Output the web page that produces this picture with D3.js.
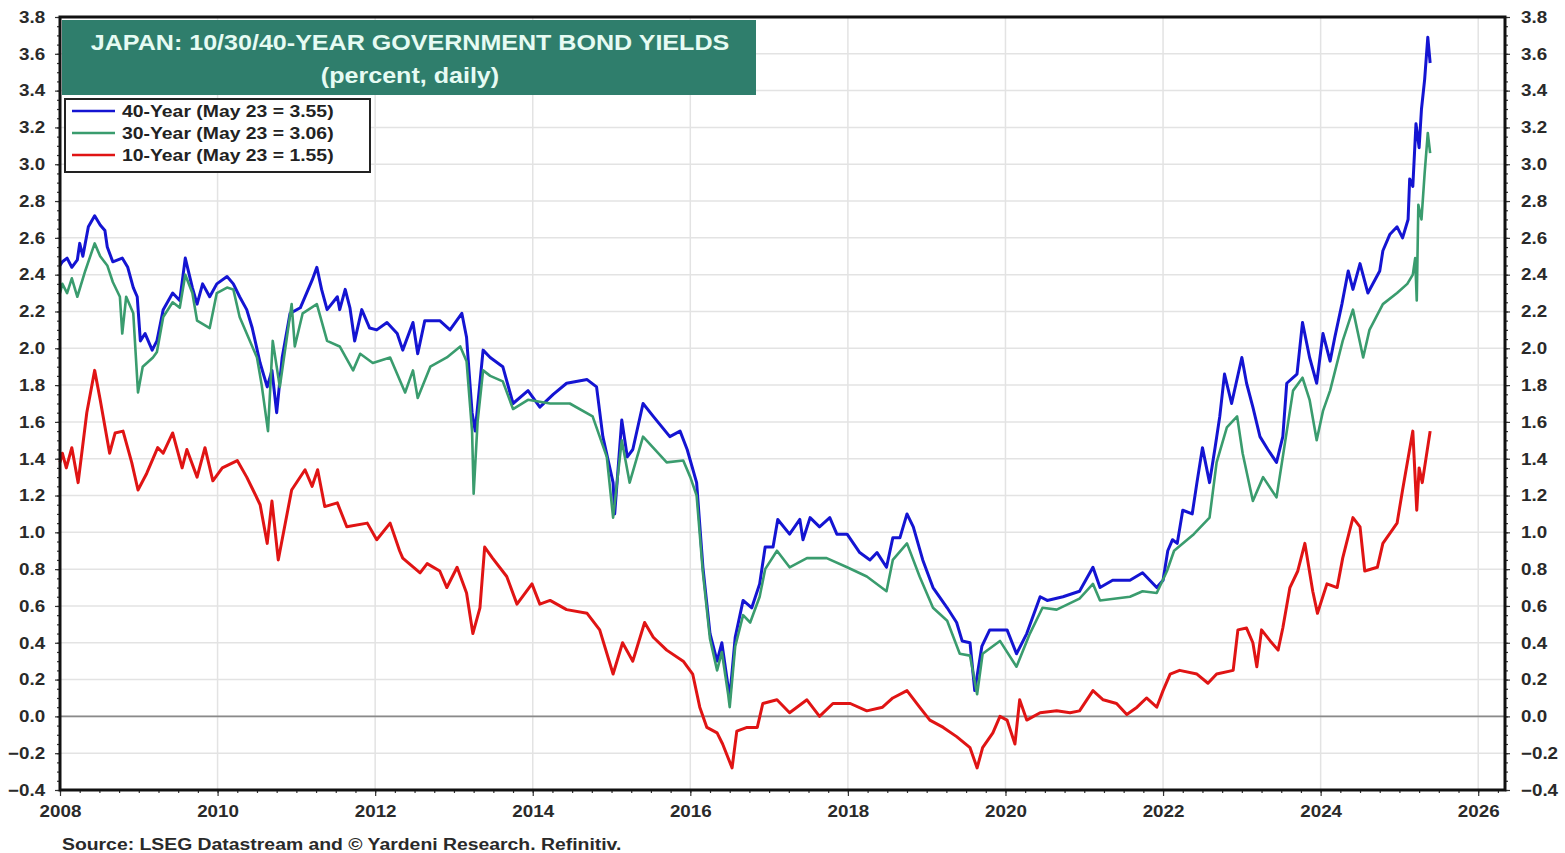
<!DOCTYPE html>
<html>
<head>
<meta charset="utf-8">
<script src="https://cdn.jsdelivr.net/npm/d3@7"></script>
<style>
  html, body { margin: 0; padding: 0; background: #fff; }
  svg { display: block; }
  text { font-family: "Liberation Sans", Arial, sans-serif; font-weight: bold; }
</style>
</head>
<body>
<svg id="chart" width="1565" height="853"></svg>
<script>
// Japan government bond yields, percent (decimal year, value)
const dates40 = [2008.00,2008.03,2008.09,2008.15,2008.22,2008.25,2008.29,2008.36,2008.44,2008.51,2008.57,2008.60,2008.67,2008.79,2008.86,2008.93,2008.98,2009.02,2009.08,2009.17,2009.23,2009.31,2009.43,2009.52,2009.59,2009.68,2009.74,2009.81,2009.90,2009.99,2010.12,2010.20,2010.28,2010.37,2010.44,2010.54,2010.63,2010.69,2010.75,2010.82,2010.92,2011.05,2011.13,2011.20,2011.26,2011.32,2011.39,2011.52,2011.55,2011.62,2011.68,2011.74,2011.83,2011.93,2012.02,2012.15,2012.28,2012.35,2012.48,2012.54,2012.63,2012.82,2012.95,2013.10,2013.16,2013.23,2013.27,2013.37,2013.46,2013.62,2013.75,2013.94,2014.09,2014.26,2014.43,2014.69,2014.81,2014.89,2015.02,2015.04,2015.13,2015.20,2015.27,2015.40,2015.53,2015.74,2015.87,2015.96,2016.08,2016.16,2016.25,2016.34,2016.40,2016.48,2016.50,2016.57,2016.67,2016.78,2016.88,2016.95,2017.05,2017.11,2017.26,2017.39,2017.43,2017.52,2017.64,2017.77,2017.86,2017.99,2018.15,2018.28,2018.37,2018.49,2018.57,2018.66,2018.75,2018.83,2018.95,2019.08,2019.26,2019.38,2019.45,2019.55,2019.61,2019.70,2019.80,2020.02,2020.14,2020.27,2020.44,2020.53,2020.73,2020.94,2021.11,2021.20,2021.36,2021.58,2021.74,2021.92,2022.00,2022.06,2022.12,2022.18,2022.25,2022.37,2022.43,2022.50,2022.59,2022.66,2022.72,2022.78,2022.87,2023.00,2023.06,2023.14,2023.23,2023.33,2023.44,2023.52,2023.57,2023.70,2023.77,2023.86,2023.95,2024.03,2024.12,2024.18,2024.27,2024.35,2024.41,2024.50,2024.60,2024.75,2024.79,2024.88,2024.97,2025.04,2025.11,2025.13,2025.17,2025.21,2025.25,2025.28,2025.32,2025.36,2025.39];
const yields40 = [2.45,2.47,2.49,2.44,2.48,2.57,2.50,2.66,2.72,2.67,2.64,2.55,2.47,2.49,2.44,2.33,2.28,2.04,2.08,1.99,2.04,2.21,2.30,2.26,2.49,2.33,2.24,2.35,2.28,2.35,2.39,2.35,2.28,2.21,2.11,1.92,1.79,1.88,1.65,1.95,2.19,2.22,2.30,2.37,2.44,2.32,2.21,2.28,2.21,2.32,2.22,2.04,2.21,2.11,2.10,2.14,2.08,1.99,2.14,1.97,2.15,2.15,2.10,2.19,2.06,1.65,1.55,1.99,1.95,1.90,1.70,1.77,1.68,1.75,1.81,1.83,1.79,1.52,1.27,1.10,1.61,1.41,1.45,1.70,1.63,1.52,1.55,1.45,1.27,0.81,0.45,0.30,0.40,0.16,0.10,0.43,0.63,0.59,0.72,0.92,0.92,1.07,0.99,1.07,0.96,1.08,1.03,1.08,0.99,0.99,0.89,0.85,0.89,0.81,0.97,0.97,1.10,1.03,0.85,0.70,0.59,0.51,0.41,0.40,0.14,0.38,0.47,0.47,0.34,0.45,0.65,0.63,0.65,0.68,0.81,0.70,0.74,0.74,0.78,0.70,0.74,0.90,0.96,0.94,1.12,1.10,1.27,1.46,1.27,1.46,1.63,1.86,1.70,1.95,1.81,1.68,1.52,1.45,1.38,1.52,1.81,1.86,2.14,1.95,1.81,2.08,1.93,2.06,2.24,2.42,2.32,2.46,2.30,2.42,2.53,2.62,2.66,2.60,2.70,2.92,2.88,3.22,3.09,3.30,3.46,3.69,3.55];

const dates30 = [2008.00,2008.03,2008.09,2008.15,2008.22,2008.32,2008.44,2008.51,2008.60,2008.67,2008.76,2008.79,2008.84,2008.93,2008.99,2009.05,2009.18,2009.23,2009.31,2009.43,2009.52,2009.59,2009.68,2009.74,2009.90,2009.99,2010.12,2010.20,2010.28,2010.50,2010.56,2010.64,2010.70,2010.79,2010.94,2010.98,2011.08,2011.26,2011.39,2011.55,2011.72,2011.81,2011.97,2012.19,2012.38,2012.48,2012.54,2012.70,2012.91,2013.08,2013.16,2013.23,2013.25,2013.30,2013.37,2013.46,2013.62,2013.75,2013.94,2014.22,2014.47,2014.76,2014.94,2015.02,2015.13,2015.23,2015.40,2015.70,2015.91,2016.00,2016.08,2016.16,2016.25,2016.34,2016.40,2016.48,2016.50,2016.57,2016.67,2016.76,2016.88,2016.95,2017.10,2017.26,2017.48,2017.73,2017.99,2018.24,2018.49,2018.57,2018.75,2018.91,2019.08,2019.26,2019.42,2019.55,2019.64,2019.71,2019.93,2020.14,2020.31,2020.47,2020.65,2020.94,2021.11,2021.20,2021.58,2021.74,2021.92,2022.05,2022.14,2022.39,2022.59,2022.68,2022.81,2022.94,2023.01,2023.14,2023.27,2023.44,2023.52,2023.65,2023.77,2023.86,2023.95,2024.03,2024.12,2024.28,2024.41,2024.54,2024.62,2024.79,2024.97,2025.10,2025.17,2025.20,2025.22,2025.24,2025.28,2025.32,2025.36,2025.39];
const yields30 = [2.30,2.35,2.30,2.38,2.28,2.42,2.57,2.50,2.45,2.36,2.28,2.08,2.28,2.19,1.76,1.90,1.95,1.98,2.17,2.25,2.22,2.40,2.30,2.15,2.11,2.30,2.33,2.32,2.17,1.95,1.80,1.55,2.04,1.79,2.24,2.01,2.19,2.24,2.04,2.01,1.88,1.97,1.92,1.95,1.76,1.88,1.73,1.90,1.95,2.01,1.93,1.55,1.21,1.60,1.88,1.85,1.82,1.67,1.72,1.70,1.70,1.63,1.41,1.08,1.50,1.27,1.52,1.38,1.39,1.30,1.20,0.78,0.42,0.25,0.35,0.12,0.05,0.38,0.55,0.51,0.65,0.80,0.90,0.81,0.86,0.86,0.81,0.76,0.68,0.85,0.94,0.76,0.59,0.52,0.34,0.33,0.12,0.34,0.41,0.27,0.45,0.59,0.58,0.64,0.72,0.63,0.65,0.68,0.67,0.79,0.90,0.99,1.08,1.38,1.57,1.63,1.43,1.17,1.30,1.19,1.41,1.77,1.84,1.72,1.50,1.66,1.77,2.04,2.21,1.95,2.10,2.24,2.30,2.35,2.40,2.49,2.26,2.78,2.70,2.95,3.17,3.06];

const dates10 = [2008.00,2008.03,2008.08,2008.15,2008.23,2008.34,2008.44,2008.51,2008.63,2008.70,2008.80,2008.91,2008.99,2009.10,2009.24,2009.31,2009.43,2009.55,2009.61,2009.74,2009.84,2009.94,2010.06,2010.25,2010.37,2010.45,2010.54,2010.63,2010.69,2010.77,2010.94,2011.11,2011.20,2011.27,2011.36,2011.52,2011.64,2011.90,2012.02,2012.19,2012.31,2012.35,2012.57,2012.66,2012.82,2012.91,2013.04,2013.16,2013.24,2013.33,2013.39,2013.49,2013.67,2013.80,2013.99,2014.09,2014.22,2014.43,2014.69,2014.85,2015.02,2015.14,2015.27,2015.42,2015.53,2015.70,2015.91,2016.03,2016.12,2016.21,2016.34,2016.41,2016.53,2016.59,2016.72,2016.85,2016.92,2017.10,2017.26,2017.48,2017.64,2017.81,2018.03,2018.24,2018.44,2018.57,2018.75,2018.91,2019.04,2019.21,2019.38,2019.55,2019.64,2019.71,2019.84,2019.93,2020.02,2020.12,2020.18,2020.27,2020.44,2020.65,2020.82,2020.94,2021.11,2021.24,2021.41,2021.54,2021.67,2021.79,2021.92,2022.00,2022.09,2022.21,2022.43,2022.57,2022.68,2022.89,2022.95,2023.06,2023.14,2023.19,2023.25,2023.36,2023.46,2023.52,2023.61,2023.71,2023.80,2023.90,2023.96,2024.08,2024.21,2024.28,2024.41,2024.50,2024.56,2024.72,2024.79,2024.97,2025.04,2025.17,2025.22,2025.25,2025.29,2025.39];
const yields10 = [1.38,1.43,1.35,1.46,1.27,1.65,1.88,1.72,1.43,1.54,1.55,1.38,1.23,1.32,1.46,1.43,1.54,1.35,1.45,1.30,1.46,1.28,1.35,1.39,1.30,1.23,1.15,0.94,1.17,0.85,1.23,1.34,1.25,1.34,1.14,1.16,1.03,1.05,0.96,1.05,0.90,0.86,0.78,0.83,0.79,0.70,0.81,0.67,0.45,0.59,0.92,0.86,0.76,0.61,0.72,0.61,0.63,0.58,0.56,0.47,0.23,0.40,0.30,0.51,0.43,0.36,0.30,0.23,0.05,-0.06,-0.09,-0.15,-0.28,-0.08,-0.06,-0.06,0.07,0.09,0.02,0.09,0.00,0.07,0.07,0.03,0.05,0.10,0.14,0.05,-0.02,-0.06,-0.11,-0.17,-0.28,-0.17,-0.09,0.00,-0.02,-0.15,0.09,-0.02,0.02,0.03,0.02,0.03,0.14,0.09,0.07,0.01,0.05,0.10,0.05,0.14,0.23,0.25,0.23,0.18,0.23,0.25,0.47,0.48,0.40,0.27,0.47,0.41,0.36,0.48,0.70,0.79,0.94,0.68,0.56,0.72,0.70,0.86,1.08,1.03,0.79,0.81,0.94,1.05,1.23,1.55,1.12,1.35,1.27,1.55];

const seriesLabels = ["40-Year (May 23 = 3.55)", "30-Year (May 23 = 3.06)", "10-Year (May 23 = 1.55)"];
const yTicks = [-0.4,-0.2,0.0,0.2,0.4,0.6,0.8,1.0,1.2,1.4,1.6,1.8,2.0,2.2,2.4,2.6,2.8,3.0,3.2,3.4,3.6,3.8];
const xTicks = [2008,2010,2012,2014,2016,2018,2020,2022,2024,2026];
const titleLines = ["JAPAN: 10/30/40-YEAR GOVERNMENT BOND YIELDS", "(percent, daily)"];
const sourceText = "Source: LSEG Datastream and \u00A9 Yardeni Research. Refinitiv.";

const colors = { y40: "#1414d2", y30: "#3a9c6e", y10: "#e01414" };

const svg = d3.select("#chart");
const pLeft = 60, pRight = 1505, pTop = 17, pBottom = 790;
const stretch = 1.14; // wide bold lettering

const x = d3.scaleLinear().domain([2008, 2026.34]).range([pLeft, pRight]);
const y = d3.scaleLinear().domain([-0.4, 3.8]).range([pBottom, pTop]);

// places a horizontally widened text at (tx, ty)
function wideText(parent, tx, ty, str, size, anchor, fill) {
  return parent.append("text")
    .attr("transform", `translate(${tx},${ty}) scale(${stretch},1)`)
    .attr("text-anchor", anchor || "start")
    .attr("fill", fill)
    .style("font-size", size + "px")
    .text(str);
}

// gridlines
const grid = svg.append("g");
grid.selectAll("line.h").data(yTicks).join("line")
  .attr("class", "h")
  .attr("x1", pLeft).attr("x2", pRight)
  .attr("y1", d => y(d)).attr("y2", d => y(d))
  .attr("stroke", "#e3e3e3").attr("stroke-width", 1.5);
grid.selectAll("line.v").data(xTicks).join("line")
  .attr("class", "v")
  .attr("x1", d => x(d)).attr("x2", d => x(d))
  .attr("y1", pTop).attr("y2", pBottom)
  .attr("stroke", "#e3e3e3").attr("stroke-width", 1.5);

// zero line
svg.append("line")
  .attr("x1", pLeft).attr("x2", pRight)
  .attr("y1", y(0)).attr("y2", y(0))
  .attr("stroke", "#8a8a8a").attr("stroke-width", 1.6);

// series
const line = d3.line().x(d => x(d[0])).y(d => y(d[1]));
const pairs = (ds, vs) => ds.map((d, i) => [d, vs[i]]);
const plot = svg.append("g");
plot.append("path").datum(pairs(dates40, yields40))
  .attr("d", line).attr("fill", "none").attr("stroke", colors.y40)
  .attr("stroke-width", 3).attr("stroke-linejoin", "round");
plot.append("path").datum(pairs(dates30, yields30))
  .attr("d", line).attr("fill", "none").attr("stroke", colors.y30)
  .attr("stroke-width", 2.6).attr("stroke-linejoin", "round");
plot.append("path").datum(pairs(dates10, yields10))
  .attr("d", line).attr("fill", "none").attr("stroke", colors.y10)
  .attr("stroke-width", 3).attr("stroke-linejoin", "round");

// axes
const fmt = d3.format(".1f");
const yMinor = d3.range(-0.4, 3.8001, 0.05);
const xMinor = d3.range(2008, 2026.34, 0.25);

const leftAxis = svg.append("g").attr("transform", `translate(${pLeft},0)`)
  .call(d3.axisLeft(y).tickValues(yTicks).tickFormat(fmt).tickSize(5).tickPadding(8));
const rightAxis = svg.append("g").attr("transform", `translate(${pRight},0)`)
  .call(d3.axisRight(y).tickValues(yTicks).tickFormat(fmt).tickSize(5).tickPadding(9));
const bottomAxis = svg.append("g").attr("transform", `translate(0,${pBottom})`)
  .call(d3.axisBottom(x).tickValues(xTicks).tickFormat(d3.format("d")).tickSize(6).tickPadding(9));

svg.append("g").attr("transform", `translate(${pLeft},0)`)
  .call(d3.axisLeft(y).tickValues(yMinor).tickFormat("").tickSize(3))
  .call(g => g.select(".domain").remove());
svg.append("g").attr("transform", `translate(${pRight},0)`)
  .call(d3.axisRight(y).tickValues(yMinor).tickFormat("").tickSize(3))
  .call(g => g.select(".domain").remove());
svg.append("g").attr("transform", `translate(0,${pBottom})`)
  .call(d3.axisBottom(x).tickValues(xMinor).tickFormat("").tickSize(3))
  .call(g => g.select(".domain").remove());

[leftAxis, rightAxis, bottomAxis].forEach(g => {
  g.select(".domain").remove();
  g.selectAll(".tick text")
    .attr("fill", "#2a2a2a")
    .attr("transform", `scale(${stretch},1)`)
    .style("font-size", "16.5px").style("font-weight", "bold");
});
svg.selectAll(".tick line").attr("stroke", "#333").attr("stroke-width", 1.2);

// frame
svg.append("rect")
  .attr("x", pLeft).attr("y", pTop).attr("width", pRight - pLeft).attr("height", pBottom - pTop)
  .attr("fill", "none").attr("stroke", "#111").attr("stroke-width", 3);

// title box
svg.append("rect").attr("x", 62).attr("y", 20).attr("width", 694).attr("height", 75)
  .attr("fill", "#2f7e6c");
wideText(svg, 410, 50, titleLines[0], 22, "middle", "#e6fbf3");
wideText(svg, 410, 83, titleLines[1], 22, "middle", "#e6fbf3");

// legend
const lg = svg.append("g");
lg.append("rect").attr("x", 65).attr("y", 99).attr("width", 305).attr("height", 73)
  .attr("fill", "#fff").attr("stroke", "#222").attr("stroke-width", 2);
const legendColors = [colors.y40, colors.y30, colors.y10];
seriesLabels.forEach((t, i) => {
  const ly = 111 + i * 22;
  lg.append("line").attr("x1", 72).attr("x2", 115).attr("y1", ly).attr("y2", ly)
    .attr("stroke", legendColors[i]).attr("stroke-width", 2.5);
  wideText(lg, 122, ly + 6, t, 17, "start", "#222");
});

// source note
wideText(svg, 62, 850, sourceText, 17, "start", "#2a2a2a");
</script>
</body>
</html>
